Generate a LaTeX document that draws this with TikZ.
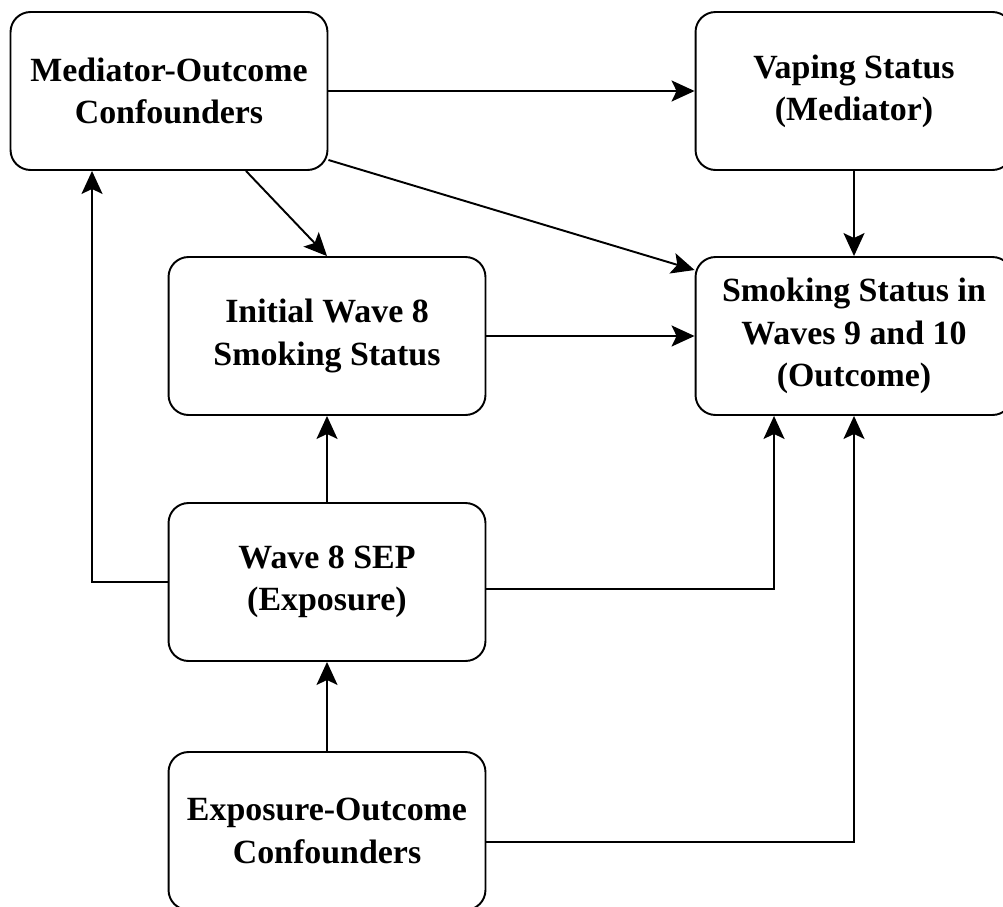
\documentclass[tikz,border=0pt]{standalone}
\usepackage{fontspec}
\setmainfont{Liberation Serif}
\usetikzlibrary{arrows.meta}
\tikzset{
  box/.style={draw,line width=1.1pt,rounded corners=0.4cm,minimum width=6.34cm,
    minimum height=3.16cm,align=center,font=\fontsize{19.3}{24}\selectfont\bfseries},
  arr/.style={line width=1.1pt,-{Stealth[length=0.46cm,width=0.42cm,inset=0.1cm]}}
}
\begin{document}
\begin{tikzpicture}[x=0.02cm,y=-0.02cm]%DAG
\useasboundingbox (0,0) rectangle (1003,906);
\node[box] (moc) at (169,91) {Mediator-Outcome\\Confounders};
\node[box] (vap) at (854,91) {Vaping Status\\(Mediator)};
\node[box] (ini) at (327,336) {Initial Wave 8\\Smoking Status};
\node[box] (out) at (854,336) {Smoking Status in\\Waves 9 and 10\\(Outcome)};
\node[box] (sep) at (327,582) {Wave 8 SEP\\(Exposure)};
\node[box] (eoc) at (327,831) {Exposure-Outcome\\Confounders};
\draw[arr] (moc.east) -- (vap.west);
\draw[arr] ([xshift=1.54cm]moc.south) -- (ini.north);
\draw[arr] ([yshift=-1.38cm]moc.east) -- ([yshift=1.32cm]out.west);
\draw[arr] (vap.south) -- (out.north);
\draw[arr] (ini.east) -- (out.west);
\draw[arr] (sep.north) -- (ini.south);
\draw[arr] (sep.west) -| ([xshift=-1.54cm]moc.south);
\draw[arr] ([yshift=-0.14cm]sep.east) -| ([xshift=-1.6cm]out.south);
\draw[arr] (eoc.north) -- (sep.south);
\draw[arr] ([yshift=-0.22cm]eoc.east) -| (out.south);
\end{tikzpicture}
\end{document}
